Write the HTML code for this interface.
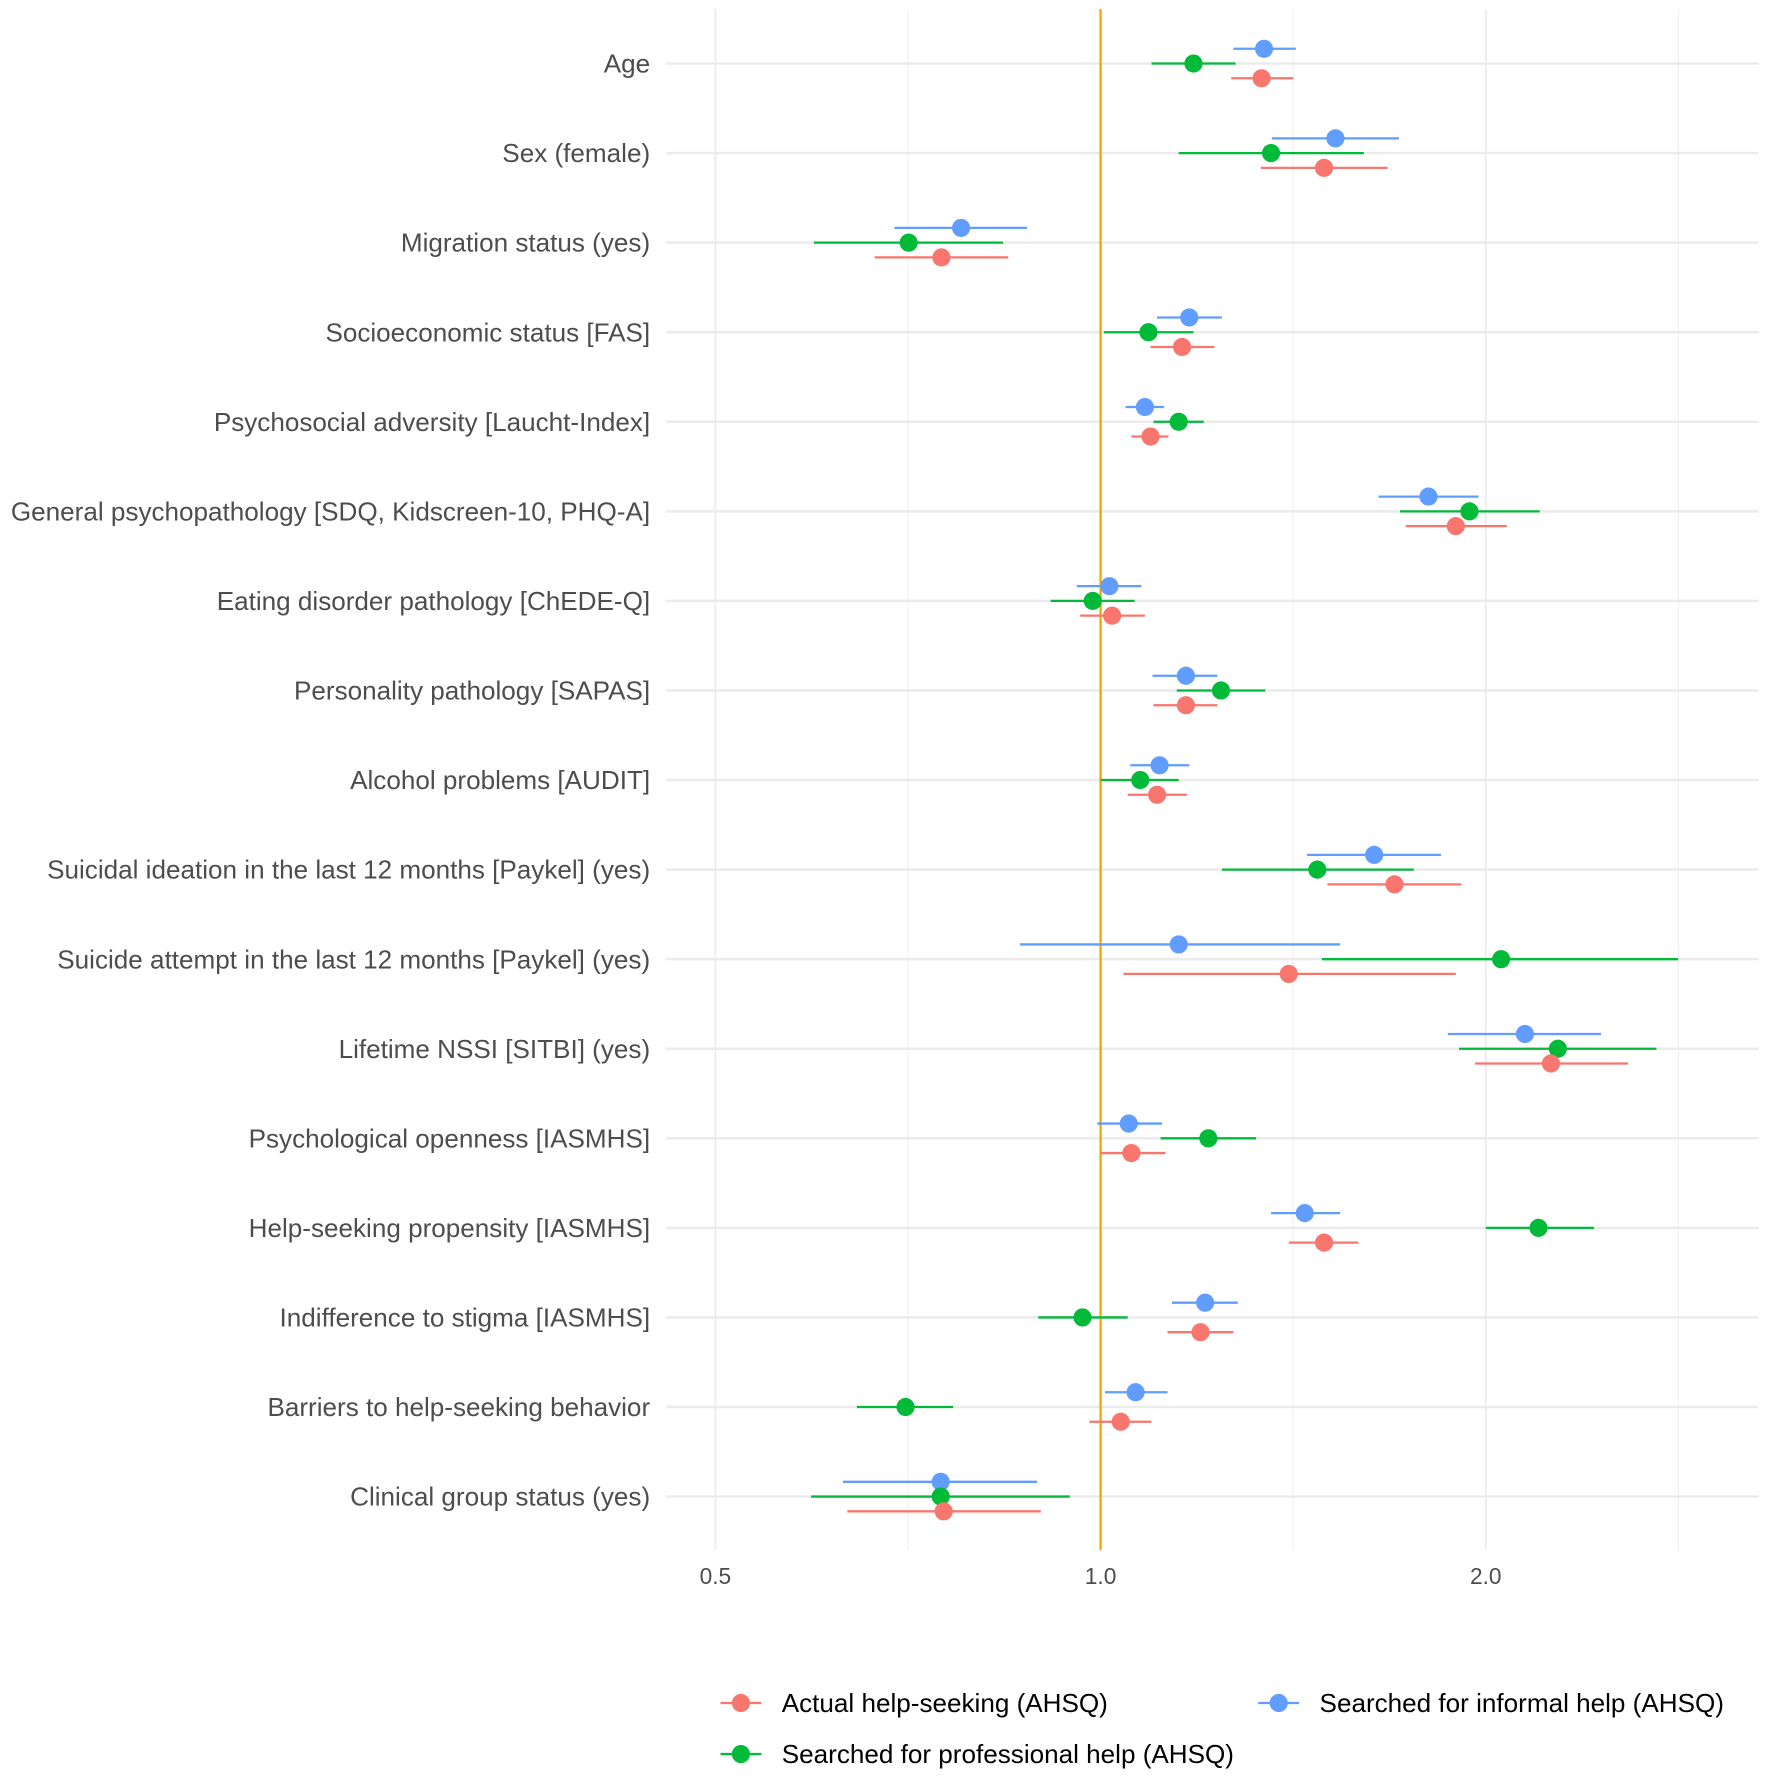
<!DOCTYPE html>
<html><head><meta charset="utf-8"><style>html,body{margin:0;padding:0;background:#fff}svg{display:block}</style></head>
<body>
<svg id="chart" width="1770" height="1783" viewBox="0 0 1560 1571.5" preserveAspectRatio="none" xmlns="http://www.w3.org/2000/svg" font-family="Liberation Sans, sans-serif"></svg>
<script>
const categories=["Age","Sex (female)","Migration status (yes)","Socioeconomic status [FAS]","Psychosocial adversity [Laucht-Index]","General psychopathology [SDQ, Kidscreen-10, PHQ-A]","Eating disorder pathology [ChEDE-Q]","Personality pathology [SAPAS]","Alcohol problems [AUDIT]","Suicidal ideation in the last 12 months [Paykel] (yes)","Suicide attempt in the last 12 months [Paykel] (yes)","Lifetime NSSI [SITBI] (yes)","Psychological openness [IASMHS]","Help-seeking propensity [IASMHS]","Indifference to stigma [IASMHS]","Barriers to help-seeking behavior","Clinical group status (yes)"];
const informalEst=[1.342,1.526,0.778,1.173,1.083,1.804,1.016,1.166,1.112,1.636,1.151,2.146,1.052,1.444,1.207,1.065,0.750];
const informalLo=[1.270,1.361,0.690,1.107,1.046,1.649,0.958,1.098,1.055,1.450,0.865,1.868,0.994,1.359,1.137,1.008,0.629];
const informalHi=[1.421,1.711,0.876,1.244,1.121,1.974,1.076,1.234,1.173,1.845,1.539,2.461,1.117,1.539,1.280,1.128,0.892];
const professionalEst=[1.182,1.359,0.708,1.090,1.151,1.942,0.986,1.242,1.074,1.477,2.056,2.277,1.214,2.199,0.968,0.704,0.750];
const professionalLo=[1.096,1.151,0.597,1.006,1.100,1.714,0.914,1.147,1.000,1.244,1.489,1.906,1.114,2.000,0.894,0.645,0.594];
const professionalHi=[1.275,1.606,0.839,1.182,1.204,2.204,1.063,1.345,1.151,1.757,2.827,2.719,1.323,2.430,1.050,0.767,0.946];
const actualEst=[1.336,1.495,0.751,1.158,1.094,1.895,1.021,1.166,1.107,1.697,1.403,2.249,1.057,1.495,1.197,1.037,0.754];
const actualLo=[1.265,1.334,0.666,1.094,1.057,1.732,0.964,1.100,1.050,1.504,1.042,1.962,1.000,1.403,1.128,0.980,0.634];
const actualHi=[1.415,1.676,0.847,1.227,1.130,2.077,1.083,1.234,1.168,1.914,1.895,2.584,1.124,1.590,1.270,1.096,0.898];
const tickValues=[0.5,1.0,2.0];
const tickLabels=["0.5","1.0","2.0"];
const minorValues=[0.7071,1.4142,2.8284];

const NS="http://www.w3.org/2000/svg";
const svg=document.getElementById('chart');
const xs=v=>970+339.5*Math.log2(v);
const ys=i=>56+78.94*i;
function mk(tag,attrs,parent){const e=document.createElementNS(NS,tag);for(const k in attrs)e.setAttribute(k,attrs[k]);(parent||svg).appendChild(e);return e;}
const yTop=8,yBottom=1366,xLeft=587,xRight=1550;
minorValues.forEach(v=>{const l=mk('line',{x1:xs(v),x2:xs(v),y1:yTop,y2:yBottom,stroke:'#f0f0f0','stroke-width':1});

});
tickValues.forEach((v,i)=>{const l=mk('line',{x1:xs(v),x2:xs(v),y1:yTop,y2:yBottom,stroke:'#ebebeb','stroke-width':1.5});


const t=mk('text',{x:xs(v),y:1396,'text-anchor':'middle','font-size':20,fill:'#4d4d4d'});t.textContent=tickLabels[i];

});
categories.forEach((c,i)=>{const l=mk('line',{x1:xLeft,x2:xRight,y1:ys(i),y2:ys(i),stroke:'#ebebeb','stroke-width':2.2});


const t=mk('text',{x:573,y:ys(i)+8,'text-anchor':'end','font-size':23,fill:'#4d4d4d'});t.textContent=c;

});
const ref=mk('line',{x1:xs(1),x2:xs(1),y1:yTop,y2:yBottom,stroke:'#f5a300','stroke-width':2});


const series=[
 {name:'informal',color:'#619cff',est:informalEst,lo:informalLo,hi:informalHi,off:-13},
 {name:'professional',color:'#00ba38',est:professionalEst,lo:professionalLo,hi:professionalHi,off:0},
 {name:'actual',color:'#f8766d',est:actualEst,lo:actualLo,hi:actualHi,off:13}];
series.forEach(s=>{s.est.forEach((v,i)=>{const y=ys(i)+s.off;
const l=mk('line',{x1:xs(s.lo[i]),x2:xs(s.hi[i]),y1:y,y2:y,stroke:s.color,'stroke-width':2});


const p=mk('circle',{cx:xs(v),cy:y,r:8,fill:s.color});

});});
const leg=[{c:'#f8766d',t:'Actual help-seeking (AHSQ)',x:653,y:1501},{c:'#619cff',t:'Searched for informal help (AHSQ)',x:1127,y:1501},{c:'#00ba38',t:'Searched for professional help (AHSQ)',x:653,y:1546}];
leg.forEach(L=>{const g=mk('g',{});


mk('line',{x1:L.x-18,x2:L.x+18,y1:L.y,y2:L.y,stroke:L.c,'stroke-width':2},g);
mk('circle',{cx:L.x,cy:L.y,r:8,fill:L.c},g);
const t=mk('text',{x:L.x+36,y:L.y+8,'font-size':23,fill:'#000'},g);t.textContent=L.t;});
</script>
</body></html>
